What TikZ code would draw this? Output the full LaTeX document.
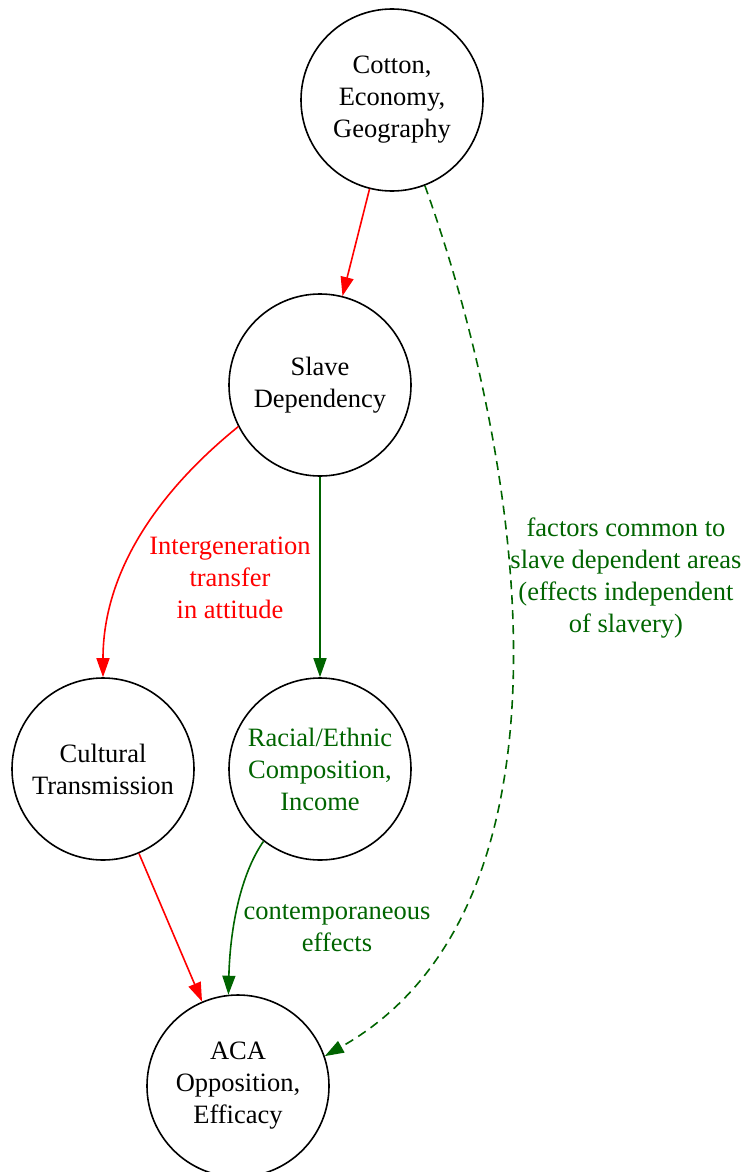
\documentclass[tikz,border=0pt]{standalone}
\usepackage{fontspec}
\setmainfont{Liberation Serif}
\usetikzlibrary{arrows.meta}
\definecolor{dgreen}{HTML}{006400}
\definecolor{rosso}{HTML}{FF0000}

\begin{document}
\begin{tikzpicture}[x=1pt, y=-1pt,
        every node/.style={font=\fontsize{26.5}{32}\selectfont, align=center},
        stato/.style={circle, draw, line width=1.6pt, minimum size=182pt, inner sep=0pt},
        freccia/.style={line width=1.6pt, -{Triangle[length=19pt,width=13pt]}}]
    \useasboundingbox (0,0) rectangle (748,1172);

    % Nodi
    \node[stato] (cotton) at (392,100) {Cotton,\\Economy,\\Geography};
    \node[stato] (slave) at (320,385) {Slave\\Dependency};
    \node[stato] (cult) at (103,769) {Cultural\\Transmission};
    \node[stato, text=dgreen] (racial) at (320,769) {Racial/Ethnic\\Composition,\\Income};
    \node[stato] (aca) at (238,1086) {ACA\\Opposition,\\Efficacy};

    % Percorso rosso
    \draw[freccia, rosso] (cotton) -- (slave);
    \draw[freccia, rosso] (slave.207) .. controls (160,490) and (103,570) .. (cult.north);
    \draw[freccia, rosso] (cult) -- (aca);

    % Percorso verde
    \draw[freccia, dgreen] (slave) -- (racial);
    \draw[freccia, dgreen] (racial.232) .. controls (240,875) and (230,930) .. (aca.96);
    \draw[freccia, dgreen, dash pattern=on 9pt off 6pt]
        (cotton.-69) .. controls (522,455) and (592,905) .. (aca.19);

    % Etichette
    \node[text=rosso] (lblint) at (230,578) {Intergeneration\\transfer\\in attitude};
    \node[text=dgreen] (lblcont) at (337,928) {contemporaneous\\effects};
    \node[text=dgreen] (lblfact) at (626,578) {factors common to\\slave dependent areas\\(effects independent\\of slavery)};
\end{tikzpicture}
\end{document}
